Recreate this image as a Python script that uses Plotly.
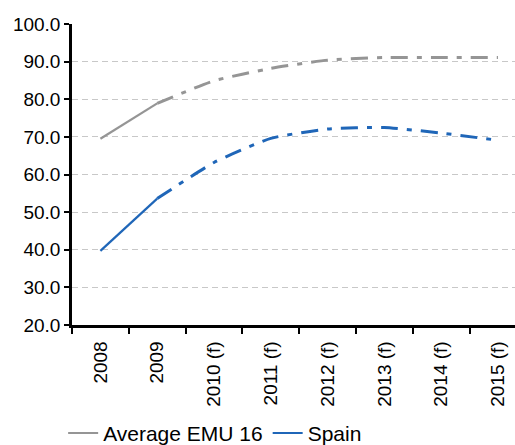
import plotly.graph_objects as go

categories = ["2008", "2009", "2010 (f)", "2011 (f)", "2012 (f)", "2013 (f)", "2014 (f)", "2015 (f)"]
emu = [69.5, 78.9, 84.9, 88.2, 90.4, 91.1, 91.1, 91.1]
spain = [39.7, 53.6, 63.2, 69.6, 72.1, 72.5, 71.0, 69.1]
n_actual = 2  # 2008-2009 are actual values, the rest are forecasts

GREY = "#959595"
BLUE = "#1f66b8"
DASH = "17px,9px,5px,9px"

fig = go.Figure()
for name, vals, col in [("Average EMU 16", emu, GREY), ("Spain", spain, BLUE)]:
    fig.add_trace(go.Scatter(
        x=categories[:n_actual], y=vals[:n_actual], name=name, mode="lines",
        line=dict(color=col, width=2.2), showlegend=True))
    fig.add_trace(go.Scatter(
        x=categories[n_actual - 1:], y=vals[n_actual - 1:], name=name, mode="lines",
        line=dict(color=col, width=3, dash=DASH, shape="spline", smoothing=0.5),
        showlegend=False))

fig.update_layout(
    width=515, height=445,
    margin=dict(l=72, r=0, t=24, b=120, autoexpand=False),
    paper_bgcolor="white", plot_bgcolor="white",
    font=dict(family="Liberation Sans, Arial, sans-serif", size=19, color="black"),
    legend=dict(orientation="h", x=-0.02, xanchor="left", y=-0.36, yanchor="middle",
                font=dict(size=21), itemwidth=30, tracegroupgap=0),
    showlegend=True,
)
fig.update_xaxes(
    type="category", range=[-0.5, 7.3], tickangle=-90, automargin=False,
    showline=True, linecolor="black", linewidth=2.5,
    ticks="outside", tickson="boundaries", ticklen=6, tickwidth=1.5, tickcolor="black",
    ticklabelstandoff=6,
    showgrid=False, zeroline=False,
)
fig.update_yaxes(
    range=[20, 100], dtick=10, tickformat=".1f", automargin=False,
    showline=True, linecolor="black", linewidth=2.5,
    ticks="outside", ticklen=5, tickwidth=1.5, tickcolor="black",
    showgrid=True, gridcolor="#c8c8c8", griddash="6px,4px", gridwidth=1.2,
    zeroline=False,
)
fig.write_html("out.html")
